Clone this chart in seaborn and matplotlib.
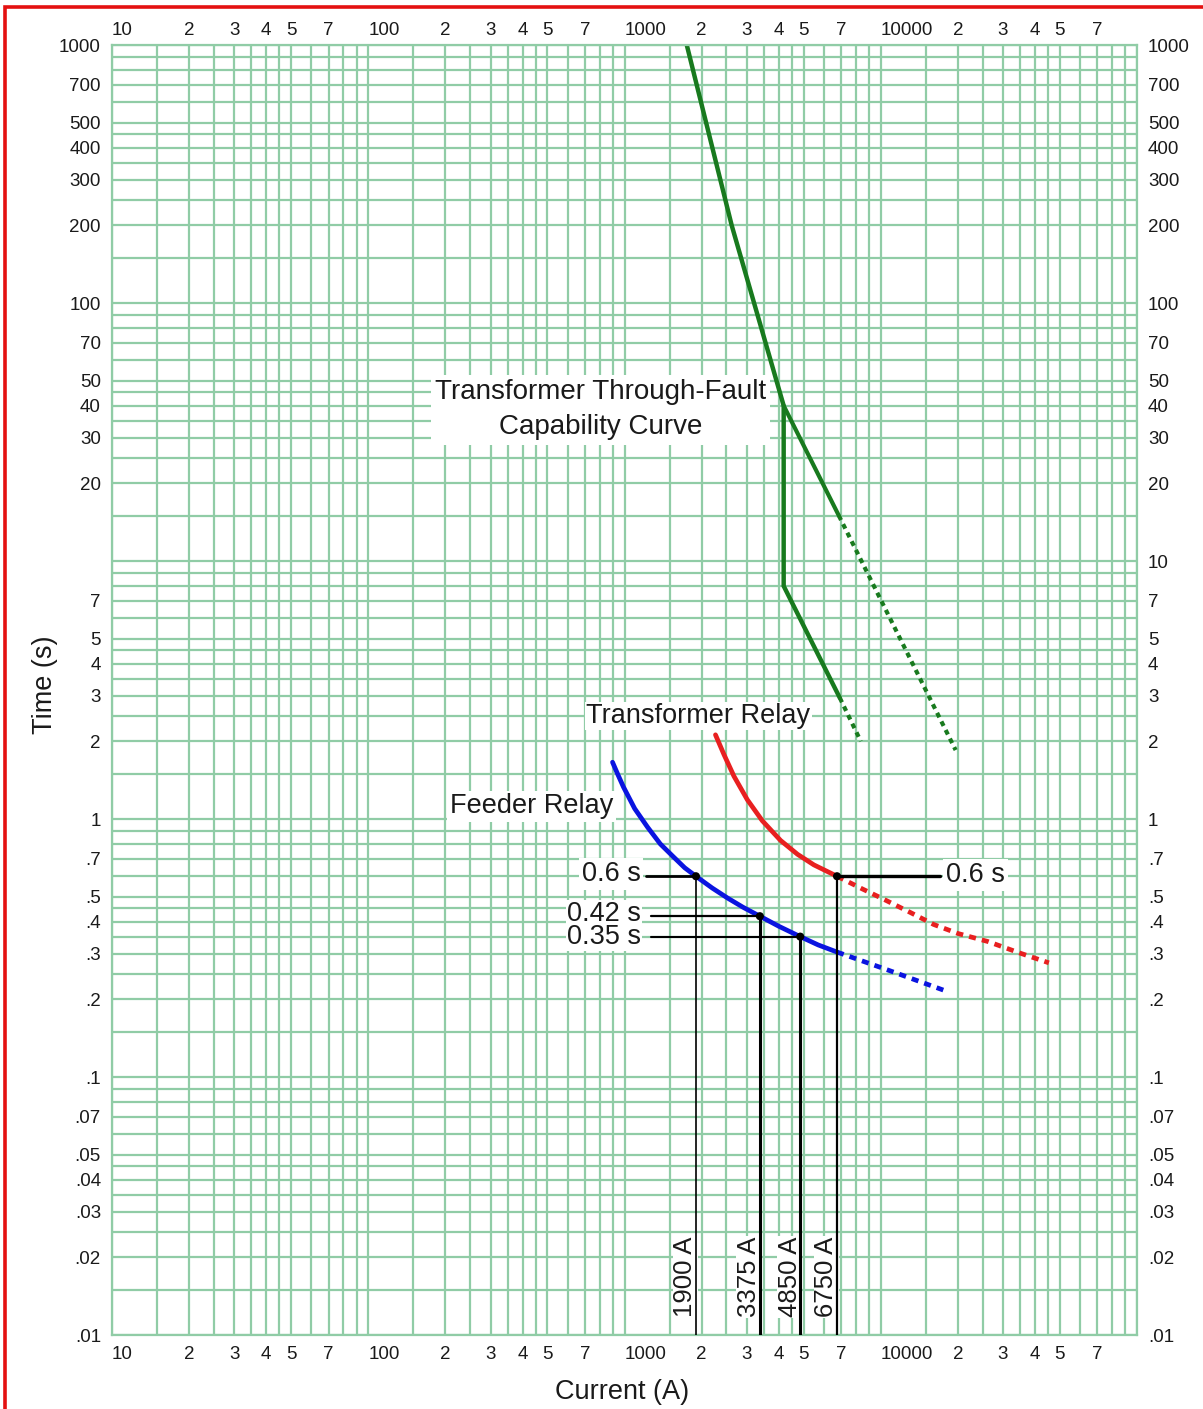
import matplotlib
matplotlib.use("Agg")
import matplotlib.pyplot as plt
from matplotlib.patches import Rectangle
from matplotlib.ticker import NullLocator
import seaborn as sns

# ---- Transformer through-fault capability curve (A, s) ----
thru_fault_current = [1750, 2620, 4180, 4180, 6920]
thru_fault_time = [1000, 200, 40, 8.0, 2.95]
thru_fault_branch_current = [4180, 6860]
thru_fault_branch_time = [40, 15.0]
thru_fault_ext_low_current = [6920, 8360]
thru_fault_ext_low_time = [2.95, 2.0]
thru_fault_ext_high_current = [6860, 19600]
thru_fault_ext_high_time = [15.0, 1.85]

# ---- Transformer relay curve ----
xfmr_relay_current = [2265, 2443, 2673, 3013, 3451, 4064, 4732, 5483, 6750]
xfmr_relay_time = [2.12, 1.78, 1.466, 1.189, 0.984, 0.826, 0.730, 0.664, 0.60]
xfmr_relay_ext_current = [6750, 8500, 10000, 13000, 16100, 20000, 26200,
                          35000, 45300]
xfmr_relay_ext_time = [0.60, 0.535, 0.495, 0.435, 0.39, 0.36, 0.335, 0.302,
                       0.277]

# ---- Feeder relay curve ----
feeder_relay_current = [898, 944, 991, 1096, 1230, 1380, 1553, 1718, 1900,
                        2200, 2524, 2900, 3375, 4000, 4850, 5700, 6750]
feeder_relay_time = [1.66, 1.48, 1.33, 1.097, 0.93, 0.80, 0.713, 0.647, 0.60,
                     0.540, 0.494, 0.455, 0.42, 0.384, 0.35, 0.325, 0.305]
feeder_relay_ext_current = [6750, 10640, 17600]
feeder_relay_ext_time = [0.305, 0.26, 0.217]

# ---- Coordination points ----
feeder_pt_current = [1900, 3375, 4850]
feeder_pt_time = [0.6, 0.42, 0.35]
feeder_pt_labels = ["0.6 s", "0.42 s", "0.35 s"]
xfmr_pt_current = [6750]
xfmr_pt_time = [0.6]
xfmr_pt_labels = ["0.6 s"]
current_marks = [1900, 3375, 4850, 6750]
current_mark_labels = ["1900 A", "3375 A", "4850 A", "6750 A"]

# ---- Log-paper grid ----
grid_mantissas = [1, 1.5, 2, 2.5, 3, 3.5, 4, 4.5, 5, 6, 7, 8, 9]
label_mantissas = [1, 2, 3, 4, 5, 7]
x_decades = [10, 100, 1000, 10000]
y_decades = [0.01, 0.1, 1, 10, 100]

GRID = "#90cca6"
GREEN = "#187a1e"
RED = "#e82020"
BLUE = "#0a14e0"
INK = "#1a1a1a"
FONT = ["Liberation Sans", "DejaVu Sans"]

sns.set_theme(style="white")
plt.rcParams["font.family"] = FONT
plt.rcParams["text.color"] = INK

W, H = 1203, 1409
fig = plt.figure(figsize=(W / 100, H / 100), dpi=100)
fig.patch.set_facecolor("white")
ax = fig.add_axes([112 / W, 1 - 1335 / H, (1137 - 112) / W, (1335 - 45) / H])
ax.set_xscale("log")
ax.set_yscale("log")
ax.set_xlim(10, 100000)
ax.set_ylim(0.01, 1000)


def tick_text(v):
    return f"{v:g}".lstrip("0") if v < 1 else f"{v:g}"


xt, xl = [], []
for d in x_decades:
    for m in grid_mantissas:
        xt.append(d * m)
        if m == 1:
            xl.append(tick_text(d))
        elif m in label_mantissas:
            xl.append(tick_text(m))
        else:
            xl.append("")
xt.append(100000)
xl.append("")

yt, yl = [], []
for d in y_decades:
    for m in grid_mantissas:
        yt.append(d * m)
        yl.append(tick_text(d * m) if m in label_mantissas else "")
yt.append(1000)
yl.append("1000")

ax.set_xticks(xt)
ax.set_xticklabels(xl)
ax.set_yticks(yt)
ax.set_yticklabels(yl)
ax.minorticks_off()
ax.tick_params(axis="both", which="both", length=0, labelsize=13.5,
               colors=INK)
ax.tick_params(axis="x", pad=8)
ax.tick_params(axis="y", right=True, labelright=True, pad=8)

for t, lab in zip(ax.xaxis.get_major_ticks(), xl):
    if len(lab) > 1:
        t.label1.set_horizontalalignment("left")
for t, v in zip(ax.yaxis.get_major_ticks(), yt):
    if v == 10:
        t.label1.set_visible(False)

# current scale repeated along the top edge
secx = ax.secondary_xaxis("top")
secx.set_xticks(xt)
secx.set_xticklabels(xl)
secx.xaxis.set_minor_locator(NullLocator())
secx.tick_params(axis="x", which="both", length=0, labelsize=13.5, pad=4.3,
                 colors=INK)
secx.spines["top"].set_visible(False)
for t, lab in zip(secx.xaxis.get_major_ticks(), xl):
    if len(lab) > 1:
        t.label1.set_horizontalalignment("left")
        t.label2.set_horizontalalignment("left")

ax.grid(True, which="major", color=GRID, lw=1.6)
for s in ax.spines.values():
    s.set_color(GRID)
    s.set_linewidth(1.6)

# ---- Curves ----
line_kw = dict(sort=False, estimator=None, ax=ax, legend=False)
sns.lineplot(x=thru_fault_current, y=thru_fault_time, color=GREEN, lw=3.2,
             solid_joinstyle="miter", **line_kw)
sns.lineplot(x=thru_fault_branch_current, y=thru_fault_branch_time,
             color=GREEN, lw=3.0, **line_kw)
sns.lineplot(x=thru_fault_ext_low_current, y=thru_fault_ext_low_time,
             color=GREEN, lw=3.0, linestyle=(0, (1.2, 1.1)), **line_kw)
sns.lineplot(x=thru_fault_ext_high_current, y=thru_fault_ext_high_time,
             color=GREEN, lw=3.0, linestyle=(0, (1.2, 1.1)), **line_kw)

sns.lineplot(x=xfmr_relay_current, y=xfmr_relay_time, color=RED, lw=3.4,
             solid_joinstyle="round", **line_kw)
sns.lineplot(x=xfmr_relay_ext_current, y=xfmr_relay_ext_time, color=RED,
             lw=3.4, linestyle=(0, (1.5, 1.3)), **line_kw)
sns.lineplot(x=feeder_relay_current, y=feeder_relay_time, color=BLUE, lw=3.4,
             solid_joinstyle="round", **line_kw)
sns.lineplot(x=feeder_relay_ext_current, y=feeder_relay_ext_time, color=BLUE,
             lw=3.4, linestyle=(0, (1.5, 1.3)), **line_kw)

# ---- Coordination guides ----
guide_start = [1208, 1265, 1265]
guide_lw = [2.0, 1.6, 1.5]
for x0, x1, t, lw in zip(guide_start, feeder_pt_current, feeder_pt_time,
                         guide_lw):
    ax.plot([x0, x1], [t, t], color="black", lw=lw, zorder=4)
ax.plot([xfmr_pt_current[0], 17100], [xfmr_pt_time[0]] * 2, color="black",
        lw=2.4, zorder=4)

vert_lw = [1.2, 2.2, 2.2, 1.6]
vert_top = feeder_pt_time + xfmr_pt_time
for x, t, lw in zip(current_marks, vert_top, vert_lw):
    ax.plot([x, x], [0.01, t], color="black", lw=lw, zorder=5.5)

sns.scatterplot(x=feeder_pt_current + xfmr_pt_current,
                y=feeder_pt_time + xfmr_pt_time, color="black", s=34,
                edgecolor="none", zorder=6, ax=ax, legend=False)

label_dx = [-3.5, -7, -7]
label_dy = [1.5, 1.6, -0.6]
label_pad = [2, 0.5, 0.5]
for x, t, lab, dx, dy, pd_ in zip(guide_start, feeder_pt_time,
                                  feeder_pt_labels, label_dx, label_dy,
                                  label_pad):
    ax.annotate(lab, xy=(x, t), xytext=(dx, dy), textcoords="offset points",
                ha="right", va="center", fontsize=19.5,
                bbox=dict(facecolor="white", edgecolor="none", pad=pd_),
                zorder=5)
ax.annotate(xfmr_pt_labels[0], xy=(17100, xfmr_pt_time[0]), xytext=(4, 1),
            textcoords="offset points", ha="left", va="center",
            fontsize=19.5,
            bbox=dict(facecolor="white", edgecolor="none", pad=2), zorder=5)

for x, lab in zip(current_marks, current_mark_labels):
    ax.annotate(lab, xy=(x, 0.01), xytext=(1, 13), textcoords="offset points",
                rotation=90, ha="right", va="bottom", fontsize=18.5,
                bbox=dict(facecolor="white", edgecolor="none", pad=0.5),
                zorder=5)

# ---- Curve captions ----
ax.text(805, 38.5, "Transformer Through-Fault\nCapability Curve",
        ha="center", va="center", fontsize=20, linespacing=1.45,
        bbox=dict(facecolor="white", edgecolor="none", pad=3), zorder=5)
ax.text(1945, 2.51, "Transformer Relay", ha="center", va="center",
        fontsize=19.5, bbox=dict(facecolor="white", edgecolor="none", pad=1),
        zorder=5)
ax.text(433, 1.12, "Feeder Relay", ha="center", va="center", fontsize=19.5,
        bbox=dict(facecolor="white", edgecolor="none", pad=2), zorder=5)

# ---- Axis titles ----
fig.text(45 / W, 1 - 685 / H, "Time (s)", rotation=90, ha="center",
         va="center", fontsize=19.5)
fig.text(622 / W, 1 - 1392 / H, "Current (A)", ha="center", va="center",
         fontsize=19.5)

# ---- Page frame ----
fig.patches.append(Rectangle((5 / W, -0.1), 1.2, (1 - 7 / H) + 0.1,
                             transform=fig.transFigure, fill=False,
                             edgecolor="#e41010", lw=2.6))

fig.savefig("out.png", dpi=100, facecolor="white")
